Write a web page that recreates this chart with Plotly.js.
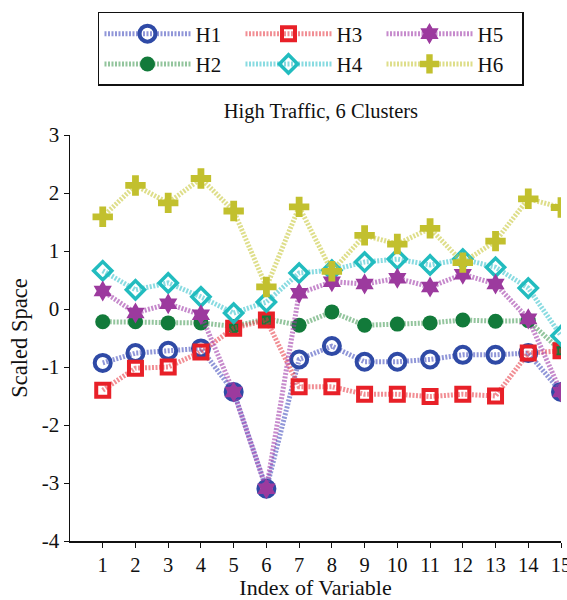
<!DOCTYPE html>
<html><head><meta charset="utf-8">
<script src="https://cdn.plot.ly/plotly-3.0.1.min.js"></script>
<style>html,body{margin:0;padding:0;background:#fff}</style>
</head><body><div id="chart" style="width:567px;height:600px"></div>
<script>
const variables = [1,2,3,4,5,6,7,8,9,10,11,12,13,14,15];
const H1 = [-0.93,-0.76,-0.72,-0.68,-1.43,-3.10,-0.87,-0.64,-0.91,-0.91,-0.87,-0.79,-0.79,-0.76,-1.43];
const H2 = [-0.22,-0.22,-0.24,-0.24,-0.30,-0.17,-0.28,-0.05,-0.28,-0.26,-0.24,-0.19,-0.21,-0.20,-0.72];
const H3 = [-1.40,-1.02,-1.00,-0.74,-0.33,-0.19,-1.34,-1.34,-1.47,-1.47,-1.51,-1.47,-1.50,-0.76,-0.72];
const H4 = [0.66,0.33,0.45,0.21,-0.07,0.12,0.62,0.67,0.81,0.86,0.76,0.86,0.72,0.36,-0.46];
const H5 = [0.31,-0.07,0.09,-0.10,-1.43,-3.10,0.27,0.47,0.43,0.53,0.38,0.60,0.43,-0.17,-1.43];
const H6 = [1.59,2.13,1.83,2.25,1.69,0.38,1.76,0.65,1.27,1.12,1.39,0.80,1.17,1.90,1.75];
const yTicks = [-4,-3,-2,-1,0,1,2,3];
const yTickText = ["-4","-3","-2","-1","0","1","2","3"];

const serif = "Liberation Serif, Times New Roman, serif";
function tr(name, y, lineColor, mColor, symbol, size, open, lw, rank) {
  return {
    x: variables, y: y, name: name, type: 'scatter', mode: 'lines+markers',
    legendrank: rank,
    line: {color: lineColor, width: 5, dash: '2px,1.5px'},
    marker: open ? {symbol: symbol, size: size, color: mColor, line: {color: mColor, width: lw}}
                 : {symbol: symbol, size: size, color: mColor, line: {width: 0}}
  };
}
const data = [
  tr('H1', H1, 'rgba(70,80,190,0.6)', '#2f4aa6', 'circle-open', 16, true, 4, 1),
  tr('H2', H2, 'rgba(40,140,60,0.5)', '#127a3a', 'circle', 15, false, 0, 4),
  tr('H3', H3, 'rgba(230,50,60,0.55)', '#e82028', 'square-open', 13, true, 4, 2),
  tr('H4', H4, 'rgba(40,190,200,0.55)', '#22bcbf', 'diamond-open', 14, true, 3.5, 5),
  tr('H5', H5, 'rgba(160,60,170,0.6)', '#9c3a9e', 'hexagram', 16, false, 0, 3),
  tr('H6', H6, 'rgba(200,200,60,0.6)', '#c2c02e', 'cross', 17, false, 0, 6)
];
const layout = {
  width: 567, height: 600,
  margin: {l: 70, r: 6, t: 135, b: 59},
  paper_bgcolor: '#fff', plot_bgcolor: '#fff',
  font: {family: serif, color: '#111', size: 21},
  title: {text: 'High Traffic, 6 Clusters', font: {family: serif, size: 20.5, color: '#111'}, x: 0.566, xanchor: 'center', y: 0.815, yanchor: 'middle'},
  showlegend: true,
  legend: {
    orientation: 'h', x: 0.057, xanchor: 'left', y: 1.303, yanchor: 'top',
    bordercolor: '#111', borderwidth: 1.5, bgcolor: '#fff',
    font: {family: serif, size: 21, color: '#111'},
    entrywidth: 40, entrywidthmode: 'pixels', itemwidth: 86,
    tracegroupgap: 0
  },
  xaxis: {
    range: [0, 15], tickvals: variables, ticks: 'outside', ticklen: 5, tickcolor: '#111',
    showline: true, linecolor: '#111', linewidth: 1.5, showgrid: false, zeroline: false,
    ticklabeloverflow: 'allow',
    tickfont: {family: serif, size: 20.5, color: '#111'},
    title: {text: 'Index of Variable', font: {family: serif, size: 22, color: '#111'}, standoff: 2}
  },
  yaxis: {
    range: [-4, 3], tickvals: yTicks, ticktext: yTickText, ticks: 'outside', ticklen: 5, tickcolor: '#111',
    showline: true, linecolor: '#111', linewidth: 1.5, showgrid: false, zeroline: false,
    tickfont: {family: serif, size: 21, color: '#111'},
    title: {text: 'Scaled Space', font: {family: serif, size: 22.5, color: '#111'}, standoff: 8}
  }
};
Plotly.newPlot('chart', data, layout, {displayModeBar: false, staticPlot: true});
</script></body></html>
